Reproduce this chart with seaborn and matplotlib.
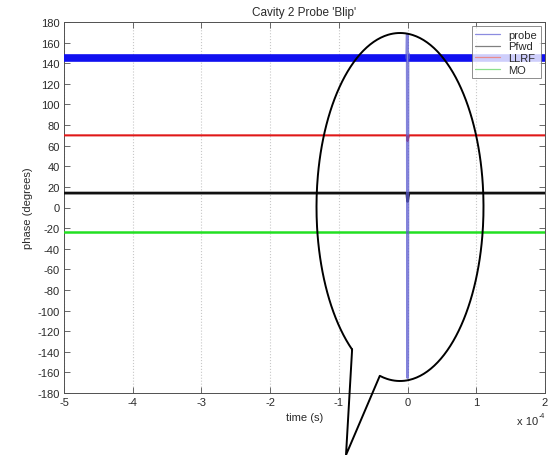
import numpy as np
import pandas as pd
import matplotlib
matplotlib.use("Agg")
import matplotlib.pyplot as plt
from matplotlib.lines import Line2D
from matplotlib.ticker import FixedLocator, FuncFormatter
import seaborn as sns

sns.set_theme(style="white")
plt.rcParams["font.family"] = ["Liberation Sans", "DejaVu Sans"]

# ---- data -------------------------------------------------------------
# time stamps (s) and phase (degrees) of each trace around the blip at t = 0
probe_t = [-5.0e-4, -1.0e-6, -0.5e-6, 0.0, 0.3e-6, 0.6e-6, 1.0e-6, 2.0e-4]
probe_v = [145.0, 145.0, 168.0, -165.0, -145.0, 150.0, 145.0, 145.0]
pfwd_t = [-5.0e-4, -1.0e-6, 0.0, 0.8e-6, 2.0e-6, 2.0e-4]
pfwd_v = [14.0, 14.0, 6.0, 10.0, 14.0, 14.0]
llrf_t = [-5.0e-4, -1.0e-6, 0.0, 0.8e-6, 2.0e-6, 2.0e-4]
llrf_v = [70.0, 70.0, 64.5, 67.0, 70.0, 70.0]
mo_t = [-5.0e-4, 2.0e-4]
mo_v = [-24.0, -24.0]

series_names = ["probe", "Pfwd", "LLRF", "MO"]
series_colors = ["#1010f0", "#101010", "#e01818", "#22e022"]
legend_colors = ["#8c8ce0", "#808080", "#e88c8c", "#8ce08c"]

x_ticks = [-5e-4, -4e-4, -3e-4, -2e-4, -1e-4, 0.0, 1e-4, 2e-4]
y_ticks = list(range(-180, 181, 20))

# ---- figure -----------------------------------------------------------
W, H = 549, 456
FS = 8
TXT = "#2a2a2a"
fig = plt.figure(figsize=(W / 100, H / 100), dpi=100)
ax = fig.add_axes([64 / W, 1 - 394 / H, (545 - 64) / W, (394 - 23) / H])

probe = pd.DataFrame({"t": probe_t, "v": probe_v})
pfwd = pd.DataFrame({"t": pfwd_t, "v": pfwd_v})
llrf = pd.DataFrame({"t": llrf_t, "v": llrf_v})
mo = pd.DataFrame({"t": mo_t, "v": mo_v})

blip = probe["t"].abs() < 0.9e-6
base_left = probe["t"] <= probe["t"][~blip & (probe["t"] < 0)].max()
base_right = probe["t"] >= probe["t"][~blip & (probe["t"] > 0)].min()

kw = dict(x="t", y="v", ax=ax, estimator=None, sort=False, legend=False)
# noisy probe baseline shown as a thick band
sns.lineplot(data=probe[base_left], color=series_colors[0], linewidth=5.5,
             solid_capstyle="butt", zorder=3, **kw)
sns.lineplot(data=probe[base_right], color=series_colors[0], linewidth=5.5,
             solid_capstyle="butt", zorder=3, **kw)
sns.lineplot(data=pfwd, color=series_colors[1], linewidth=2.0, zorder=3, **kw)
sns.lineplot(data=llrf, color=series_colors[2], linewidth=1.5, zorder=3, **kw)
sns.lineplot(data=mo, color=series_colors[3], linewidth=1.8, zorder=3, **kw)
# the blip itself: a fast swing through the full phase range
blip_rows = probe[(probe["t"] >= -1.0e-6) & (probe["t"] <= 1.0e-6)]
sns.lineplot(data=blip_rows, color="#5a5ad0", linewidth=2.0, alpha=0.75,
             zorder=4, **kw)

ax.set_xlim(-5e-4, 2e-4)
ax.set_ylim(-180, 180)
ax.xaxis.set_major_locator(FixedLocator(x_ticks))
ax.yaxis.set_major_locator(FixedLocator(y_ticks))
ax.xaxis.set_major_formatter(FuncFormatter(lambda v, p: f"{v / 1e-4:.0f}"))
ax.yaxis.set_major_formatter(FuncFormatter(lambda v, p: f"{v:.0f}"))

ax.tick_params(direction="in", length=4, width=0.6, colors="#505050",
               labelsize=FS, labelcolor=TXT, top=True, right=True,
               bottom=True, left=True, pad=3)
for s in ax.spines.values():
    s.set_color("#505050")
    s.set_linewidth(0.7)
ax.grid(axis="x", color="#c8c8c8", linestyle=":", linewidth=0.8)
ax.grid(axis="y", visible=False)
ax.set_axisbelow(True)

ax.set_title("Cavity 2 Probe 'Blip'", fontsize=8.5, color=TXT, pad=5)
ax.set_xlabel("time (s)", fontsize=FS, color=TXT)
ax.set_ylabel("phase (degrees)", fontsize=FS, color=TXT)
ax.xaxis.set_label_coords(0.5, (394 - 418) / 371)
ax.xaxis.label.set_va("center")
ax.yaxis.set_label_coords((28 - 64) / 481, 0.5)
ax.yaxis.label.set_va("center")

# time-axis multiplier, written as "x 10" with a small raised exponent
fig.text(517 / W, 1 - 422 / H, "x 10", fontsize=FS, color=TXT,
         va="center", ha="left")
fig.text(539 / W, 1 - 417 / H, "-4", fontsize=5, color=TXT,
         va="center", ha="left")

handles = [Line2D([], [], color=c, linewidth=0.9) for c in legend_colors]
leg = ax.legend(handles, series_names, loc="upper right", fontsize=FS,
                frameon=True, fancybox=False, handlelength=2.2,
                borderpad=0.3, labelspacing=0.15, handletextpad=0.8,
                borderaxespad=0.4)
leg.get_frame().set_edgecolor("#707070")
leg.get_frame().set_linewidth(0.7)
for t in leg.get_texts():
    t.set_color(TXT)

# hand-drawn callout bubble around the blip (pixel coordinates, y downwards)
cx, cy, a, b = 400.0, 208.0, 83.5, 174.0
theta = np.radians(np.linspace(125, 464, 400))
px = list(cx + a * np.cos(theta)) + [346.0, cx + a * np.cos(theta[0])]
py = list(cy + b * np.sin(theta)) + [456.0, cy + b * np.sin(theta[0])]
fig.add_artist(Line2D([x / W for x in px], [1 - y / H for y in py],
                      transform=fig.transFigure, color="black",
                      linewidth=1.4, zorder=10))

fig.savefig("out.png", dpi=100)
